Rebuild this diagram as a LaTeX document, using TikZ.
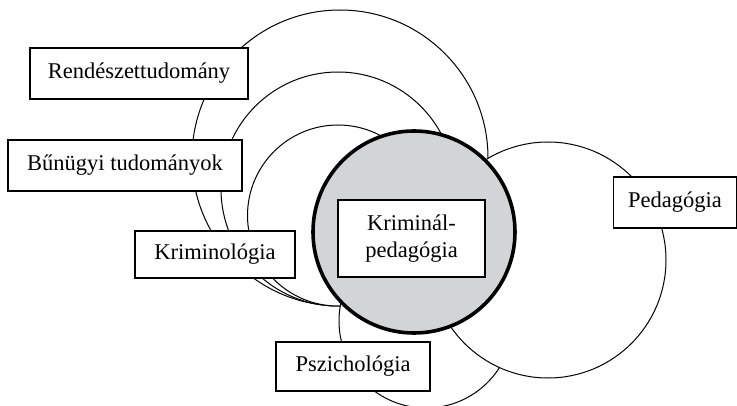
\documentclass[tikz,border=0pt]{standalone}
\usepackage{fontspec}
\setmainfont{Liberation Serif}
\definecolor{coregray}{RGB}{211,212,214}
\begin{document}
\begin{tikzpicture}[x=1pt,y=-1pt,
  ring/.style={draw=black,line width=1pt,fill=white},
  label/.style={draw=black,line width=1.2pt,fill=white,inner sep=0pt,
    font=\fontsize{22.5}{27}\selectfont,align=center},
  corering/.style={draw=black,line width=3.6pt,fill=coregray}]
\useasboundingbox (0,0) rectangle (737,406);
% outer nested circles, tangent at their bottoms
\draw[ring] (340,158) circle[radius=148];
\draw[ring] (338,189) circle[radius=117];
\draw[ring] (338,215.5) circle[radius=90.5];
% Pszichologia circle
\draw[ring] (426,321) circle[radius=87];
% Pedagogia circle
\draw[ring] (548,260) circle[radius=118];
% central circle
\draw[corering] (414,232) circle[radius=101];
% labels
\node[label,minimum width=218pt,minimum height=51pt] (rend) at (139,73.5) {Rendészettudomány};
\node[label,minimum width=234pt,minimum height=51pt] (bun) at (125,165.5) {Bűnügyi tudományok};
\node[label,minimum width=160pt,minimum height=47pt] (krim) at (215,254.5) {Kriminológia};
\node[label,minimum width=154pt,minimum height=49pt] (psz) at (353,366.5) {Pszichológia};
\node[label,minimum width=123pt,minimum height=51pt] (ped) at (675,202.5) {Pedagógia};
\node[label,minimum width=147pt,minimum height=77pt] (kp) at (411.5,238.5) {Kriminál-\\pedagógia};
\end{tikzpicture}
\end{document}
